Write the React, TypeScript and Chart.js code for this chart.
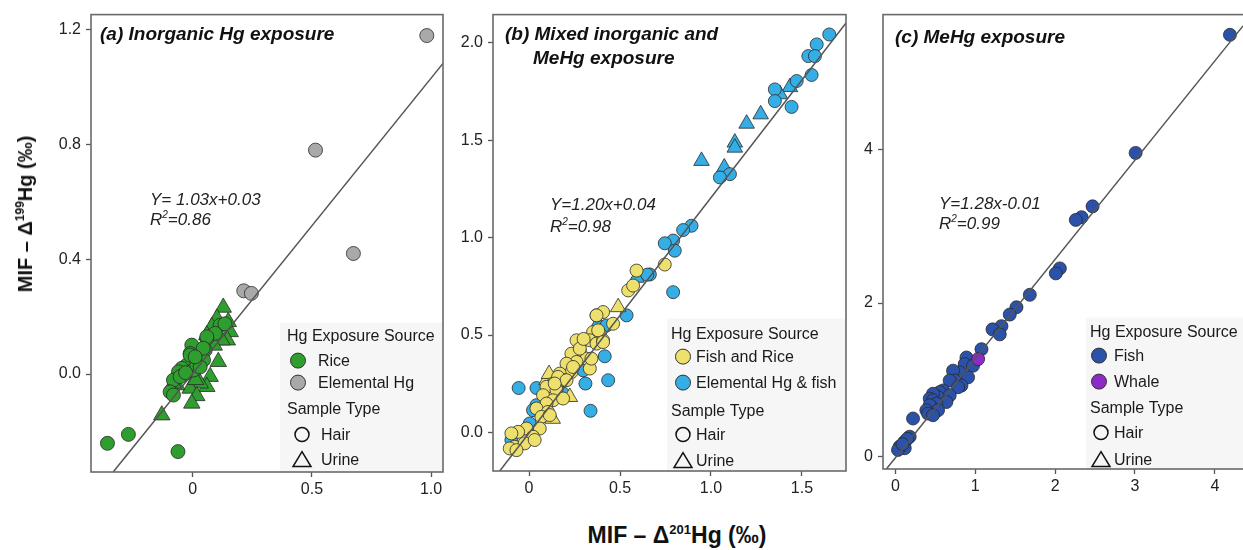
import React, { useEffect, useRef } from "react";
import { Chart, registerables } from "chart.js";

Chart.register(...registerables);

type P = [number, number];

const FONT = "'Liberation Sans', Arial, Helvetica, sans-serif";

// ---------- Panel (a): Inorganic Hg exposure ----------
const aRiceHair: P[] = [
  [-0.358, -0.241], [-0.27, -0.21], [-0.062, -0.27],
  [0.115, 0.17], [0.094, 0.142], [0.059, 0.124], [0.052, 0.083], [0.045, 0.049],
  [-0.004, 0.101], [-0.011, 0.072], [0.0, 0.043], [-0.025, 0.031], [-0.046, 0.02],
  [-0.06, 0.008], [-0.039, -0.003], [-0.081, -0.021], [-0.095, -0.062], [-0.081, -0.073],
  [-0.053, -0.009], [0.003, 0.014], [0.017, 0.031], [0.031, 0.025], [0.059, 0.13],
  [0.044, 0.09], [-0.011, 0.066], [0.135, 0.175], [-0.03, 0.005], [0.01, 0.06],
];
const aRiceUrine: P[] = [
  [-0.13, -0.143], [0.128, 0.232], [0.101, 0.194], [0.149, 0.182], [0.08, 0.165],
  [0.157, 0.147], [0.145, 0.118], [0.107, 0.043], [0.073, -0.009], [0.059, -0.044],
  [0.031, -0.032], [-0.011, -0.05], [0.017, -0.076], [-0.004, -0.102], [-0.067, -0.038],
  [0.059, 0.136], [0.122, 0.118], [-0.081, -0.032], [0.03, 0.07], [0.09, 0.1],
  [-0.04, 0.0], [0.012, -0.02],
];
const aElementalHair: P[] = [
  [0.982, 1.179], [0.515, 0.78], [0.674, 0.42], [0.214, 0.29], [0.246, 0.281],
];
const aFitLine: P[] = [[-0.334, -0.341], [1.05, 1.082]];
const aXTicks = [0, 0.5, 1.0];
const aXTickLabels = ["0", "0.5", "1.0"];
const aYTicks = [0, 0.4, 0.8, 1.2];
const aYTickLabels = ["0.0", "0.4", "0.8", "1.2"];

// ---------- Panel (b): Mixed inorganic and MeHg exposure ----------
const bFishRiceHair: P[] = [
  [0.591, 0.831], [0.746, 0.862], [0.545, 0.729], [0.572, 0.754], [0.462, 0.558],
  [0.407, 0.618], [0.371, 0.601], [0.352, 0.515], [0.389, 0.507], [0.334, 0.473],
  [0.371, 0.456], [0.407, 0.473], [0.279, 0.421], [0.233, 0.404], [0.316, 0.379],
  [0.261, 0.362], [0.206, 0.353], [0.334, 0.328], [0.233, 0.31], [0.169, 0.302],
  [0.196, 0.268], [0.132, 0.251], [0.096, 0.234], [0.151, 0.217], [0.077, 0.191],
  [0.132, 0.165], [0.096, 0.148], [0.041, 0.123], [0.104, 0.105], [0.068, 0.08],
  [0.059, 0.02], [-0.014, 0.02], [-0.06, 0.003], [-0.097, -0.005], [0.022, -0.022],
  [-0.079, -0.074], [-0.024, -0.056], [-0.106, -0.082], [-0.069, -0.091], [0.343, 0.379],
  [0.261, 0.473], [0.38, 0.524], [0.407, 0.464], [0.187, 0.174], [0.114, 0.089],
  [0.031, -0.039], [0.16, 0.285], [0.206, 0.268], [0.242, 0.336], [0.279, 0.43],
  [0.141, 0.251], [0.3, 0.48],
];
const bFishRiceUrine: P[] = [
  [0.49, 0.643], [0.096, 0.268], [0.224, 0.182], [0.11, 0.3], [0.13, 0.07], [0.16, 0.2],
];
const bElementalHair: P[] = [
  [1.65, 2.043], [1.581, 1.992], [1.535, 1.932], [1.571, 1.932], [1.553, 1.835],
  [1.471, 1.804], [1.351, 1.761], [1.351, 1.701], [1.443, 1.671], [1.104, 1.326],
  [1.049, 1.309], [0.893, 1.061], [0.847, 1.039], [0.792, 0.985], [0.746, 0.971],
  [0.801, 0.933], [0.664, 0.811], [0.65, 0.81], [0.792, 0.72], [0.536, 0.601],
  [0.371, 0.601], [0.416, 0.391], [0.435, 0.268], [0.31, 0.251], [0.338, 0.111],
  [-0.057, 0.228], [0.041, 0.228], [0.041, 0.14], [0.187, 0.2], [0.297, 0.319],
  [0.426, 0.549], [-0.097, -0.039], [0.004, 0.046], [0.022, 0.114],
];
const bElementalUrine: P[] = [
  [1.434, 1.773], [1.379, 1.736], [1.273, 1.633], [1.196, 1.585], [1.131, 1.488],
  [1.131, 1.462], [0.948, 1.394], [1.073, 1.36], [0.591, 0.794], [0.0, 0.01], [0.38, 0.56],
];
const bFitLine: P[] = [[-0.161, -0.198], [1.742, 2.102]];
const bXTicks = [0, 0.5, 1.0, 1.5];
const bXTickLabels = ["0", "0.5", "1.0", "1.5"];
const bYTicks = [0, 0.5, 1.0, 1.5, 2.0];
const bYTickLabels = ["0.0", "0.5", "1.0", "1.5", "2.0"];

// ---------- Panel (c): MeHg exposure ----------
const cFishHair: P[] = [
  [4.189, 5.497], [3.008, 3.957], [2.469, 3.261], [2.331, 3.119], [2.259, 3.084],
  [2.059, 2.452], [2.009, 2.387], [1.683, 2.108], [1.516, 1.945], [1.432, 1.85],
  [1.328, 1.699], [1.216, 1.657], [1.307, 1.592], [1.078, 1.399], [0.89, 1.29],
  [0.868, 1.205], [0.972, 1.183], [0.806, 1.097], [0.91, 1.032], [0.722, 1.119],
  [0.743, 0.99], [0.827, 0.925], [0.68, 0.99], [0.785, 0.903], [0.597, 0.861],
  [0.555, 0.839], [0.68, 0.796], [0.534, 0.774], [0.471, 0.818], [0.43, 0.754],
  [0.471, 0.732], [0.639, 0.71], [0.514, 0.689], [0.451, 0.645], [0.43, 0.667],
  [0.534, 0.603], [0.388, 0.603], [0.409, 0.56], [0.471, 0.538], [0.221, 0.495],
  [0.179, 0.258], [0.117, 0.194], [0.054, 0.129], [0.117, 0.108], [0.033, 0.086],
  [0.15, 0.23], [0.09, 0.16],
];
const cWhaleHair: P[] = [[1.036, 1.27]];
const cFitLine: P[] = [[-0.113, -0.163], [4.353, 5.613]];
const cXTicks = [0, 1, 2, 3, 4];
const cXTickLabels = ["0", "1", "2", "3", "4"];
const cYTicks = [0, 2, 4];
const cYTickLabels = ["0", "2", "4"];

// ---------- Colours ----------
const GREEN = "#2E9E2E";
const GRAY = "#A9A9A9";
const YELLOW = "#EEE06C";
const LIGHTBLUE = "#35AEE6";
const DARKBLUE = "#2B52A8";
const PURPLE = "#8D2BC9";

interface Series {
  data: P[];
  color: string;
  style: "circle" | "triangle";
  radius: number;
}

interface LegendCfg {
  boxDx: number;
  boxDy: number;
  header1: string;
  header2: string;
  headerDx: number;
  dy: number[]; // header1, item1, item2, header2, hair, urine
  markerDx: number;
  textDx: number;
  shapeDx: number;
  shapeTextDx: number;
  items: { label: string; color: string }[];
}

interface PanelCfg {
  left: number;
  width: number;
  height: number;
  padTop: number;
  padRight: number;
  yAxisWidth: number;
  xAxisHeight: number;
  xMin: number;
  xMax: number;
  yMin: number;
  yMax: number;
  xTicks: number[];
  xTickLabels: string[];
  yTicks: number[];
  yTickLabels: string[];
  series: Series[];
  line: P[];
  titles: { text: string; dx: number; dy: number }[];
  eq: { text: string; r2: string; dx: number; dy1: number; dy2: number };
  legend: LegendCfg;
}

const panels: PanelCfg[] = [
  {
    left: 0, width: 460, height: 510, padTop: 14, padRight: 17, yAxisWidth: 91, xAxisHeight: 38,
    xMin: -0.427, xMax: 1.05, yMin: -0.341, yMax: 1.252,
    xTicks: aXTicks, xTickLabels: aXTickLabels, yTicks: aYTicks, yTickLabels: aYTickLabels,
    series: [
      { data: aRiceHair, color: GREEN, style: "circle", radius: 7 },
      { data: aElementalHair, color: GRAY, style: "circle", radius: 7 },
      { data: aRiceUrine, color: GREEN, style: "triangle", radius: 9.5 },
    ],
    line: aFitLine,
    titles: [{ text: "(a) Inorganic Hg exposure", dx: 9, dy: 20 }],
    eq: { text: "Y= 1.03x+0.03", r2: "=0.86", dx: 59, dy1: 186, dy2: 206 },
    legend: {
      boxDx: 189, boxDy: 308, header1: "Hg Exposure Source", header2: "Sample Type", headerDx: 7,
      dy: [14, 38, 60, 87, 112, 137], markerDx: 18, textDx: 38, shapeDx: 22, shapeTextDx: 41,
      items: [{ label: "Rice", color: GREEN }, { label: "Elemental Hg", color: GRAY }],
    },
  },
  {
    left: 440, width: 420, height: 510, padTop: 13, padRight: 14, yAxisWidth: 53, xAxisHeight: 39,
    xMin: -0.198, xMax: 1.742, yMin: -0.198, yMax: 2.145,
    xTicks: bXTicks, xTickLabels: bXTickLabels, yTicks: bYTicks, yTickLabels: bYTickLabels,
    series: [
      { data: bFishRiceHair, color: YELLOW, style: "circle", radius: 6.5 },
      { data: bFishRiceUrine, color: YELLOW, style: "triangle", radius: 9 },
      { data: bElementalHair, color: LIGHTBLUE, style: "circle", radius: 6.5 },
      { data: bElementalUrine, color: LIGHTBLUE, style: "triangle", radius: 9 },
    ],
    line: bFitLine,
    titles: [
      { text: "(b) Mixed inorganic and", dx: 12, dy: 20 },
      { text: "MeHg exposure", dx: 40, dy: 44 },
    ],
    eq: { text: "Y=1.20x+0.04", r2: "=0.98", dx: 57, dy1: 191, dy2: 213 },
    legend: {
      boxDx: 174, boxDy: 304, header1: "Hg Exposure Source", header2: "Sample Type", headerDx: 4,
      dy: [16, 38, 64, 93, 116, 142], markerDx: 16, textDx: 29, shapeDx: 16, shapeTextDx: 29,
      items: [{ label: "Fish and Rice", color: YELLOW }, { label: "Elemental Hg & fish", color: LIGHTBLUE }],
    },
  },
  {
    left: 850, width: 410, height: 510, padTop: 10, padRight: 10, yAxisWidth: 33, xAxisHeight: 41,
    xMin: -0.155, xMax: 4.44, yMin: -0.163, yMax: 5.76,
    xTicks: cXTicks, xTickLabels: cXTickLabels, yTicks: cYTicks, yTickLabels: cYTickLabels,
    series: [
      { data: cWhaleHair, color: PURPLE, style: "circle", radius: 6.5 },
      { data: cFishHair, color: DARKBLUE, style: "circle", radius: 6.5 },
    ],
    line: cFitLine,
    titles: [{ text: "(c) MeHg exposure", dx: 12, dy: 23 }],
    eq: { text: "Y=1.28x-0.01", r2: "=0.99", dx: 56, dy1: 190, dy2: 210 },
    legend: {
      boxDx: 203, boxDy: 303, header1: "Hg Exposure Source", header2: "Sample Type", headerDx: 4,
      dy: [15, 38, 64, 91, 115, 142], markerDx: 13, textDx: 28, shapeDx: 15, shapeTextDx: 28,
      items: [{ label: "Fish", color: DARKBLUE }, { label: "Whale", color: PURPLE }],
    },
  },
];

function annotPlugin(cfg: PanelCfg) {
  return {
    id: "annot",
    afterDraw(chart: any) {
      const { ctx, chartArea: a } = chart;
      ctx.save();
      // legend background
      const L = cfg.legend;
      const bx = a.left + L.boxDx;
      const by = a.top + L.boxDy;
      ctx.fillStyle = "#F6F6F6";
      ctx.fillRect(bx, by, a.right - bx, a.bottom - by);
      // plot frame
      ctx.strokeStyle = "#6A6A6A";
      ctx.lineWidth = 1.6;
      ctx.strokeRect(a.left, a.top, a.right - a.left, a.bottom - a.top);

      ctx.textAlign = "left";
      ctx.textBaseline = "middle";
      ctx.fillStyle = "#111";
      // titles
      ctx.font = `italic bold 19px ${FONT}`;
      cfg.titles.forEach((t) => ctx.fillText(t.text, a.left + t.dx, a.top + t.dy));
      // equation
      ctx.fillStyle = "#222";
      ctx.font = `italic 17px ${FONT}`;
      ctx.fillText(cfg.eq.text, a.left + cfg.eq.dx, a.top + cfg.eq.dy1);
      let x = a.left + cfg.eq.dx;
      const y = a.top + cfg.eq.dy2;
      ctx.fillText("R", x, y);
      x += ctx.measureText("R").width;
      ctx.font = `italic 10px ${FONT}`;
      ctx.fillText("2", x, y - 5);
      x += ctx.measureText("2").width;
      ctx.font = `italic 17px ${FONT}`;
      ctx.fillText(cfg.eq.r2, x, y);

      // legend content
      ctx.fillStyle = "#1a1a1a";
      ctx.font = `16px ${FONT}`;
      ctx.fillText(L.header1, bx + L.headerDx, by + L.dy[0]);
      L.items.forEach((it, i) => {
        const my = by + L.dy[1 + i];
        ctx.beginPath();
        ctx.arc(bx + L.markerDx, my, 7.5, 0, Math.PI * 2);
        ctx.fillStyle = it.color;
        ctx.fill();
        ctx.strokeStyle = "#333";
        ctx.lineWidth = 1;
        ctx.stroke();
        ctx.fillStyle = "#1a1a1a";
        ctx.fillText(it.label, bx + L.textDx, my + 1);
      });
      ctx.fillText(L.header2, bx + L.headerDx, by + L.dy[3]);
      // hair (open circle)
      const hy = by + L.dy[4];
      ctx.beginPath();
      ctx.arc(bx + L.shapeDx, hy, 7, 0, Math.PI * 2);
      ctx.strokeStyle = "#111";
      ctx.lineWidth = 1.5;
      ctx.stroke();
      ctx.fillText("Hair", bx + L.shapeTextDx, hy + 1);
      // urine (open triangle)
      const uy = by + L.dy[5];
      const ux = bx + L.shapeDx;
      ctx.beginPath();
      ctx.moveTo(ux, uy - 8);
      ctx.lineTo(ux + 9, uy + 7);
      ctx.lineTo(ux - 9, uy + 7);
      ctx.closePath();
      ctx.stroke();
      ctx.fillText("Urine", bx + L.shapeTextDx, uy + 1);
      ctx.restore();
    },
  };
}

function Panel({ cfg }: { cfg: PanelCfg }) {
  const ref = useRef<HTMLCanvasElement>(null);
  useEffect(() => {
    const datasets: any[] = [
      {
        label: "fit",
        data: cfg.line.map(([x, y]) => ({ x, y })),
        showLine: true,
        pointRadius: 0,
        borderColor: "#555",
        borderWidth: 1.5,
        order: 0,
      },
      ...cfg.series.map((s, i) => ({
        label: "s" + i,
        data: s.data.map(([x, y]) => ({ x, y })),
        pointStyle: s.style,
        pointRadius: s.radius,
        backgroundColor: s.color,
        borderColor: "#2a2a2a",
        borderWidth: 0.8,
        order: i + 1,
      })),
    ];
    const tickFont = { size: 16, family: FONT };
    const chart = new Chart(ref.current!, {
      type: "scatter",
      data: { datasets },
      plugins: [annotPlugin(cfg)],
      options: {
        animation: false,
        responsive: true,
        maintainAspectRatio: false,
        devicePixelRatio: 1,
        layout: { padding: { top: cfg.padTop, right: cfg.padRight, left: 0, bottom: 0 } },
        plugins: { legend: { display: false }, tooltip: { enabled: false } },
        scales: {
          x: {
            type: "linear",
            min: cfg.xMin,
            max: cfg.xMax,
            afterBuildTicks: (s: any) => {
              s.ticks = cfg.xTicks.map((v) => ({ value: v }));
            },
            afterFit: (s: any) => {
              s.height = cfg.xAxisHeight;
            },
            ticks: {
              autoSkip: false,
              maxRotation: 0,
              padding: 3,
              color: "#222",
              font: tickFont,
              callback: (v: any) => {
                const i = cfg.xTicks.indexOf(Number(v));
                return i >= 0 ? cfg.xTickLabels[i] : "";
              },
            },
            grid: { drawOnChartArea: false, drawTicks: true, tickLength: 5, tickColor: "#555", tickWidth: 1.3 },
            border: { display: false },
          },
          y: {
            type: "linear",
            min: cfg.yMin,
            max: cfg.yMax,
            afterBuildTicks: (s: any) => {
              s.ticks = cfg.yTicks.map((v) => ({ value: v }));
            },
            afterFit: (s: any) => {
              s.width = cfg.yAxisWidth;
            },
            ticks: {
              autoSkip: false,
              padding: 5,
              color: "#222",
              font: tickFont,
              callback: (v: any) => {
                const i = cfg.yTicks.indexOf(Number(v));
                return i >= 0 ? cfg.yTickLabels[i] : "";
              },
            },
            grid: { drawOnChartArea: false, drawTicks: true, tickLength: 5, tickColor: "#555", tickWidth: 1.3 },
            border: { display: false },
          },
        },
      } as any,
    });
    return () => chart.destroy();
  }, [cfg]);
  return (
    <div style={{ position: "absolute", left: cfg.left, top: 0, width: cfg.width, height: cfg.height }}>
      <canvas ref={ref} />
    </div>
  );
}

export default function App() {
  return (
    <div
      style={{
        position: "absolute",
        left: 0,
        top: 0,
        width: 1243,
        height: 550,
        overflow: "hidden",
        background: "#fff",
        fontFamily: FONT,
      }}
    >
      {panels.map((p, i) => (
        <Panel key={i} cfg={p} />
      ))}
      <div
        style={{
          position: "absolute",
          left: 25,
          top: 214,
          transform: "translate(-50%, -50%) rotate(-90deg)",
          whiteSpace: "nowrap",
          fontWeight: "bold",
          fontSize: 20,
          lineHeight: 1,
          color: "#111",
        }}
      >
        MIF – Δ<sup style={{ fontSize: 12, lineHeight: 0 }}>199</sup>Hg (‰)
      </div>
      <div
        style={{
          position: "absolute",
          left: 677,
          top: 535,
          transform: "translate(-50%, -50%)",
          whiteSpace: "nowrap",
          fontWeight: "bold",
          fontSize: 23,
          lineHeight: 1,
          color: "#111",
        }}
      >
        MIF – Δ<sup style={{ fontSize: 13, lineHeight: 0 }}>201</sup>Hg (‰)
      </div>
    </div>
  );
}
